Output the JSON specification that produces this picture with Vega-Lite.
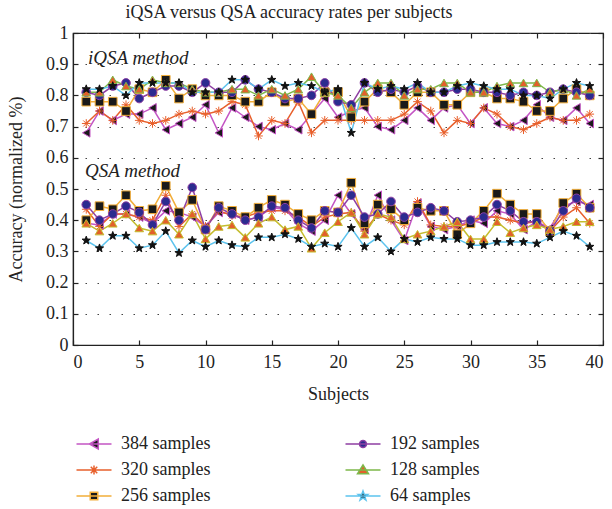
{
"$schema": "https://vega.github.io/schema/vega-lite/v6.json",
"width": 530, "height": 312,
"autosize": {"type": "none"},
"padding": {"left": 73, "top": 33, "right": 9, "bottom": 164},
"background": "white",
"config": {
  "font": "Liberation Serif, DejaVu Serif, serif",
  "view": {"stroke": "#222", "strokeWidth": 1.2},
  "axis": {"labelFont": "Liberation Serif, DejaVu Serif, serif", "titleFont": "Liberation Serif, DejaVu Serif, serif", "labelFontSize": 18, "titleFontSize": 18, "titleFontWeight": "normal", "labelColor": "#222", "titleColor": "#222", "domainColor": "#222", "tickColor": "#222", "domainWidth": 1.2, "tickWidth": 1.2},
  "legend": {"labelFont": "Liberation Serif, DejaVu Serif, serif", "labelFontSize": 18, "labelColor": "#222", "symbolSize": 100, "symbolStrokeWidth": 1.5, "symbolOpacity": 1}
},
"title": {"text": "iQSA versus QSA accuracy rates per subjects", "fontSize": 18, "fontWeight": "normal", "font": "Liberation Serif, DejaVu Serif, serif", "color": "#222", "dx": -49, "offset": 2},
"data": {"values": [
{"m":"iQSA","g":384,"s":1,"v":0.68},{"m":"iQSA","g":384,"s":2,"v":0.75},{"m":"iQSA","g":384,"s":3,"v":0.72},{"m":"iQSA","g":384,"s":4,"v":0.74},{"m":"iQSA","g":384,"s":5,"v":0.74},{"m":"iQSA","g":384,"s":6,"v":0.76},{"m":"iQSA","g":384,"s":7,"v":0.69},{"m":"iQSA","g":384,"s":8,"v":0.71},{"m":"iQSA","g":384,"s":9,"v":0.73},{"m":"iQSA","g":384,"s":10,"v":0.77},{"m":"iQSA","g":384,"s":11,"v":0.68},{"m":"iQSA","g":384,"s":12,"v":0.76},{"m":"iQSA","g":384,"s":13,"v":0.73},{"m":"iQSA","g":384,"s":14,"v":0.70},{"m":"iQSA","g":384,"s":15,"v":0.69},{"m":"iQSA","g":384,"s":16,"v":0.71},{"m":"iQSA","g":384,"s":17,"v":0.69},{"m":"iQSA","g":384,"s":18,"v":0.74},{"m":"iQSA","g":384,"s":19,"v":0.79},{"m":"iQSA","g":384,"s":20,"v":0.73},{"m":"iQSA","g":384,"s":21,"v":0.75},{"m":"iQSA","g":384,"s":22,"v":0.76},{"m":"iQSA","g":384,"s":23,"v":0.70},{"m":"iQSA","g":384,"s":24,"v":0.69},{"m":"iQSA","g":384,"s":25,"v":0.72},{"m":"iQSA","g":384,"s":26,"v":0.76},{"m":"iQSA","g":384,"s":27,"v":0.72},{"m":"iQSA","g":384,"s":28,"v":0.76},{"m":"iQSA","g":384,"s":29,"v":0.77},{"m":"iQSA","g":384,"s":30,"v":0.71},{"m":"iQSA","g":384,"s":31,"v":0.76},{"m":"iQSA","g":384,"s":32,"v":0.71},{"m":"iQSA","g":384,"s":33,"v":0.70},{"m":"iQSA","g":384,"s":34,"v":0.72},{"m":"iQSA","g":384,"s":35,"v":0.77},{"m":"iQSA","g":384,"s":36,"v":0.73},{"m":"iQSA","g":384,"s":37,"v":0.72},{"m":"iQSA","g":384,"s":38,"v":0.76},{"m":"iQSA","g":384,"s":39,"v":0.71},
{"m":"iQSA","g":320,"s":1,"v":0.71},{"m":"iQSA","g":320,"s":2,"v":0.75},{"m":"iQSA","g":320,"s":3,"v":0.72},{"m":"iQSA","g":320,"s":4,"v":0.77},{"m":"iQSA","g":320,"s":5,"v":0.72},{"m":"iQSA","g":320,"s":6,"v":0.71},{"m":"iQSA","g":320,"s":7,"v":0.72},{"m":"iQSA","g":320,"s":8,"v":0.74},{"m":"iQSA","g":320,"s":9,"v":0.75},{"m":"iQSA","g":320,"s":10,"v":0.74},{"m":"iQSA","g":320,"s":11,"v":0.75},{"m":"iQSA","g":320,"s":12,"v":0.78},{"m":"iQSA","g":320,"s":13,"v":0.77},{"m":"iQSA","g":320,"s":14,"v":0.67},{"m":"iQSA","g":320,"s":15,"v":0.72},{"m":"iQSA","g":320,"s":16,"v":0.71},{"m":"iQSA","g":320,"s":17,"v":0.78},{"m":"iQSA","g":320,"s":18,"v":0.68},{"m":"iQSA","g":320,"s":19,"v":0.72},{"m":"iQSA","g":320,"s":20,"v":0.72},{"m":"iQSA","g":320,"s":21,"v":0.72},{"m":"iQSA","g":320,"s":22,"v":0.72},{"m":"iQSA","g":320,"s":23,"v":0.72},{"m":"iQSA","g":320,"s":24,"v":0.72},{"m":"iQSA","g":320,"s":25,"v":0.74},{"m":"iQSA","g":320,"s":26,"v":0.78},{"m":"iQSA","g":320,"s":27,"v":0.75},{"m":"iQSA","g":320,"s":28,"v":0.68},{"m":"iQSA","g":320,"s":29,"v":0.72},{"m":"iQSA","g":320,"s":30,"v":0.71},{"m":"iQSA","g":320,"s":31,"v":0.76},{"m":"iQSA","g":320,"s":32,"v":0.74},{"m":"iQSA","g":320,"s":33,"v":0.70},{"m":"iQSA","g":320,"s":34,"v":0.69},{"m":"iQSA","g":320,"s":35,"v":0.71},{"m":"iQSA","g":320,"s":36,"v":0.73},{"m":"iQSA","g":320,"s":37,"v":0.72},{"m":"iQSA","g":320,"s":38,"v":0.72},{"m":"iQSA","g":320,"s":39,"v":0.74},
{"m":"iQSA","g":256,"s":1,"v":0.78},{"m":"iQSA","g":256,"s":2,"v":0.78},{"m":"iQSA","g":256,"s":3,"v":0.78},{"m":"iQSA","g":256,"s":4,"v":0.75},{"m":"iQSA","g":256,"s":5,"v":0.82},{"m":"iQSA","g":256,"s":6,"v":0.81},{"m":"iQSA","g":256,"s":7,"v":0.85},{"m":"iQSA","g":256,"s":8,"v":0.79},{"m":"iQSA","g":256,"s":9,"v":0.82},{"m":"iQSA","g":256,"s":10,"v":0.80},{"m":"iQSA","g":256,"s":11,"v":0.80},{"m":"iQSA","g":256,"s":12,"v":0.80},{"m":"iQSA","g":256,"s":13,"v":0.78},{"m":"iQSA","g":256,"s":14,"v":0.78},{"m":"iQSA","g":256,"s":15,"v":0.81},{"m":"iQSA","g":256,"s":16,"v":0.78},{"m":"iQSA","g":256,"s":17,"v":0.79},{"m":"iQSA","g":256,"s":18,"v":0.74},{"m":"iQSA","g":256,"s":19,"v":0.81},{"m":"iQSA","g":256,"s":20,"v":0.81},{"m":"iQSA","g":256,"s":21,"v":0.73},{"m":"iQSA","g":256,"s":22,"v":0.78},{"m":"iQSA","g":256,"s":23,"v":0.82},{"m":"iQSA","g":256,"s":24,"v":0.81},{"m":"iQSA","g":256,"s":25,"v":0.77},{"m":"iQSA","g":256,"s":26,"v":0.81},{"m":"iQSA","g":256,"s":27,"v":0.81},{"m":"iQSA","g":256,"s":28,"v":0.77},{"m":"iQSA","g":256,"s":29,"v":0.77},{"m":"iQSA","g":256,"s":30,"v":0.81},{"m":"iQSA","g":256,"s":31,"v":0.81},{"m":"iQSA","g":256,"s":32,"v":0.79},{"m":"iQSA","g":256,"s":33,"v":0.79},{"m":"iQSA","g":256,"s":34,"v":0.78},{"m":"iQSA","g":256,"s":35,"v":0.75},{"m":"iQSA","g":256,"s":36,"v":0.75},{"m":"iQSA","g":256,"s":37,"v":0.79},{"m":"iQSA","g":256,"s":38,"v":0.82},{"m":"iQSA","g":256,"s":39,"v":0.80},
{"m":"iQSA","g":192,"s":1,"v":0.81},{"m":"iQSA","g":192,"s":2,"v":0.80},{"m":"iQSA","g":192,"s":3,"v":0.83},{"m":"iQSA","g":192,"s":4,"v":0.84},{"m":"iQSA","g":192,"s":5,"v":0.79},{"m":"iQSA","g":192,"s":6,"v":0.81},{"m":"iQSA","g":192,"s":7,"v":0.83},{"m":"iQSA","g":192,"s":8,"v":0.83},{"m":"iQSA","g":192,"s":9,"v":0.81},{"m":"iQSA","g":192,"s":10,"v":0.84},{"m":"iQSA","g":192,"s":11,"v":0.81},{"m":"iQSA","g":192,"s":12,"v":0.81},{"m":"iQSA","g":192,"s":13,"v":0.85},{"m":"iQSA","g":192,"s":14,"v":0.82},{"m":"iQSA","g":192,"s":15,"v":0.81},{"m":"iQSA","g":192,"s":16,"v":0.79},{"m":"iQSA","g":192,"s":17,"v":0.79},{"m":"iQSA","g":192,"s":18,"v":0.80},{"m":"iQSA","g":192,"s":19,"v":0.84},{"m":"iQSA","g":192,"s":20,"v":0.78},{"m":"iQSA","g":192,"s":21,"v":0.77},{"m":"iQSA","g":192,"s":22,"v":0.84},{"m":"iQSA","g":192,"s":23,"v":0.81},{"m":"iQSA","g":192,"s":24,"v":0.82},{"m":"iQSA","g":192,"s":25,"v":0.81},{"m":"iQSA","g":192,"s":26,"v":0.83},{"m":"iQSA","g":192,"s":27,"v":0.81},{"m":"iQSA","g":192,"s":28,"v":0.81},{"m":"iQSA","g":192,"s":29,"v":0.82},{"m":"iQSA","g":192,"s":30,"v":0.82},{"m":"iQSA","g":192,"s":31,"v":0.81},{"m":"iQSA","g":192,"s":32,"v":0.81},{"m":"iQSA","g":192,"s":33,"v":0.80},{"m":"iQSA","g":192,"s":34,"v":0.81},{"m":"iQSA","g":192,"s":35,"v":0.80},{"m":"iQSA","g":192,"s":36,"v":0.81},{"m":"iQSA","g":192,"s":37,"v":0.82},{"m":"iQSA","g":192,"s":38,"v":0.81},{"m":"iQSA","g":192,"s":39,"v":0.80},
{"m":"iQSA","g":128,"s":1,"v":0.81},{"m":"iQSA","g":128,"s":2,"v":0.81},{"m":"iQSA","g":128,"s":3,"v":0.85},{"m":"iQSA","g":128,"s":4,"v":0.83},{"m":"iQSA","g":128,"s":5,"v":0.82},{"m":"iQSA","g":128,"s":6,"v":0.85},{"m":"iQSA","g":128,"s":7,"v":0.84},{"m":"iQSA","g":128,"s":8,"v":0.84},{"m":"iQSA","g":128,"s":9,"v":0.82},{"m":"iQSA","g":128,"s":10,"v":0.81},{"m":"iQSA","g":128,"s":11,"v":0.81},{"m":"iQSA","g":128,"s":12,"v":0.82},{"m":"iQSA","g":128,"s":13,"v":0.82},{"m":"iQSA","g":128,"s":14,"v":0.80},{"m":"iQSA","g":128,"s":15,"v":0.82},{"m":"iQSA","g":128,"s":16,"v":0.80},{"m":"iQSA","g":128,"s":17,"v":0.82},{"m":"iQSA","g":128,"s":18,"v":0.86},{"m":"iQSA","g":128,"s":19,"v":0.81},{"m":"iQSA","g":128,"s":20,"v":0.80},{"m":"iQSA","g":128,"s":21,"v":0.76},{"m":"iQSA","g":128,"s":22,"v":0.81},{"m":"iQSA","g":128,"s":23,"v":0.84},{"m":"iQSA","g":128,"s":24,"v":0.84},{"m":"iQSA","g":128,"s":25,"v":0.80},{"m":"iQSA","g":128,"s":26,"v":0.82},{"m":"iQSA","g":128,"s":27,"v":0.82},{"m":"iQSA","g":128,"s":28,"v":0.84},{"m":"iQSA","g":128,"s":29,"v":0.84},{"m":"iQSA","g":128,"s":30,"v":0.81},{"m":"iQSA","g":128,"s":31,"v":0.81},{"m":"iQSA","g":128,"s":32,"v":0.83},{"m":"iQSA","g":128,"s":33,"v":0.84},{"m":"iQSA","g":128,"s":34,"v":0.84},{"m":"iQSA","g":128,"s":35,"v":0.84},{"m":"iQSA","g":128,"s":36,"v":0.81},{"m":"iQSA","g":128,"s":37,"v":0.82},{"m":"iQSA","g":128,"s":38,"v":0.80},{"m":"iQSA","g":128,"s":39,"v":0.82},
{"m":"iQSA","g":64,"s":1,"v":0.82},{"m":"iQSA","g":64,"s":2,"v":0.82},{"m":"iQSA","g":64,"s":3,"v":0.83},{"m":"iQSA","g":64,"s":4,"v":0.80},{"m":"iQSA","g":64,"s":5,"v":0.84},{"m":"iQSA","g":64,"s":6,"v":0.84},{"m":"iQSA","g":64,"s":7,"v":0.84},{"m":"iQSA","g":64,"s":8,"v":0.84},{"m":"iQSA","g":64,"s":9,"v":0.81},{"m":"iQSA","g":64,"s":10,"v":0.81},{"m":"iQSA","g":64,"s":11,"v":0.81},{"m":"iQSA","g":64,"s":12,"v":0.85},{"m":"iQSA","g":64,"s":13,"v":0.85},{"m":"iQSA","g":64,"s":14,"v":0.82},{"m":"iQSA","g":64,"s":15,"v":0.85},{"m":"iQSA","g":64,"s":16,"v":0.83},{"m":"iQSA","g":64,"s":17,"v":0.84},{"m":"iQSA","g":64,"s":18,"v":0.83},{"m":"iQSA","g":64,"s":19,"v":0.81},{"m":"iQSA","g":64,"s":20,"v":0.82},{"m":"iQSA","g":64,"s":21,"v":0.68},{"m":"iQSA","g":64,"s":22,"v":0.84},{"m":"iQSA","g":64,"s":23,"v":0.82},{"m":"iQSA","g":64,"s":24,"v":0.83},{"m":"iQSA","g":64,"s":25,"v":0.82},{"m":"iQSA","g":64,"s":26,"v":0.84},{"m":"iQSA","g":64,"s":27,"v":0.81},{"m":"iQSA","g":64,"s":28,"v":0.81},{"m":"iQSA","g":64,"s":29,"v":0.83},{"m":"iQSA","g":64,"s":30,"v":0.84},{"m":"iQSA","g":64,"s":31,"v":0.83},{"m":"iQSA","g":64,"s":32,"v":0.82},{"m":"iQSA","g":64,"s":33,"v":0.82},{"m":"iQSA","g":64,"s":34,"v":0.80},{"m":"iQSA","g":64,"s":35,"v":0.80},{"m":"iQSA","g":64,"s":36,"v":0.79},{"m":"iQSA","g":64,"s":37,"v":0.82},{"m":"iQSA","g":64,"s":38,"v":0.84},{"m":"iQSA","g":64,"s":39,"v":0.83},
{"m":"QSA","g":384,"s":1,"v":0.39},{"m":"QSA","g":384,"s":2,"v":0.385},{"m":"QSA","g":384,"s":3,"v":0.42},{"m":"QSA","g":384,"s":4,"v":0.42},{"m":"QSA","g":384,"s":5,"v":0.41},{"m":"QSA","g":384,"s":6,"v":0.39},{"m":"QSA","g":384,"s":7,"v":0.43},{"m":"QSA","g":384,"s":8,"v":0.425},{"m":"QSA","g":384,"s":9,"v":0.41},{"m":"QSA","g":384,"s":10,"v":0.38},{"m":"QSA","g":384,"s":11,"v":0.425},{"m":"QSA","g":384,"s":12,"v":0.42},{"m":"QSA","g":384,"s":13,"v":0.40},{"m":"QSA","g":384,"s":14,"v":0.41},{"m":"QSA","g":384,"s":15,"v":0.44},{"m":"QSA","g":384,"s":16,"v":0.435},{"m":"QSA","g":384,"s":17,"v":0.39},{"m":"QSA","g":384,"s":18,"v":0.365},{"m":"QSA","g":384,"s":19,"v":0.40},{"m":"QSA","g":384,"s":20,"v":0.48},{"m":"QSA","g":384,"s":21,"v":0.42},{"m":"QSA","g":384,"s":22,"v":0.37},{"m":"QSA","g":384,"s":23,"v":0.48},{"m":"QSA","g":384,"s":24,"v":0.40},{"m":"QSA","g":384,"s":25,"v":0.335},{"m":"QSA","g":384,"s":26,"v":0.455},{"m":"QSA","g":384,"s":27,"v":0.38},{"m":"QSA","g":384,"s":28,"v":0.37},{"m":"QSA","g":384,"s":29,"v":0.38},{"m":"QSA","g":384,"s":30,"v":0.40},{"m":"QSA","g":384,"s":31,"v":0.39},{"m":"QSA","g":384,"s":32,"v":0.43},{"m":"QSA","g":384,"s":33,"v":0.42},{"m":"QSA","g":384,"s":34,"v":0.37},{"m":"QSA","g":384,"s":35,"v":0.395},{"m":"QSA","g":384,"s":36,"v":0.375},{"m":"QSA","g":384,"s":37,"v":0.445},{"m":"QSA","g":384,"s":38,"v":0.46},{"m":"QSA","g":384,"s":39,"v":0.45},
{"m":"QSA","g":320,"s":1,"v":0.435},{"m":"QSA","g":320,"s":2,"v":0.38},{"m":"QSA","g":320,"s":3,"v":0.42},{"m":"QSA","g":320,"s":4,"v":0.42},{"m":"QSA","g":320,"s":5,"v":0.41},{"m":"QSA","g":320,"s":6,"v":0.40},{"m":"QSA","g":320,"s":7,"v":0.48},{"m":"QSA","g":320,"s":8,"v":0.38},{"m":"QSA","g":320,"s":9,"v":0.42},{"m":"QSA","g":320,"s":10,"v":0.38},{"m":"QSA","g":320,"s":11,"v":0.43},{"m":"QSA","g":320,"s":12,"v":0.415},{"m":"QSA","g":320,"s":13,"v":0.41},{"m":"QSA","g":320,"s":14,"v":0.425},{"m":"QSA","g":320,"s":15,"v":0.43},{"m":"QSA","g":320,"s":16,"v":0.43},{"m":"QSA","g":320,"s":17,"v":0.41},{"m":"QSA","g":320,"s":18,"v":0.38},{"m":"QSA","g":320,"s":19,"v":0.41},{"m":"QSA","g":320,"s":20,"v":0.42},{"m":"QSA","g":320,"s":21,"v":0.425},{"m":"QSA","g":320,"s":22,"v":0.365},{"m":"QSA","g":320,"s":23,"v":0.42},{"m":"QSA","g":320,"s":24,"v":0.40},{"m":"QSA","g":320,"s":25,"v":0.385},{"m":"QSA","g":320,"s":26,"v":0.46},{"m":"QSA","g":320,"s":27,"v":0.385},{"m":"QSA","g":320,"s":28,"v":0.38},{"m":"QSA","g":320,"s":29,"v":0.38},{"m":"QSA","g":320,"s":30,"v":0.39},{"m":"QSA","g":320,"s":31,"v":0.41},{"m":"QSA","g":320,"s":32,"v":0.41},{"m":"QSA","g":320,"s":33,"v":0.40},{"m":"QSA","g":320,"s":34,"v":0.39},{"m":"QSA","g":320,"s":35,"v":0.395},{"m":"QSA","g":320,"s":36,"v":0.365},{"m":"QSA","g":320,"s":37,"v":0.41},{"m":"QSA","g":320,"s":38,"v":0.44},{"m":"QSA","g":320,"s":39,"v":0.39},
{"m":"QSA","g":256,"s":1,"v":0.40},{"m":"QSA","g":256,"s":2,"v":0.445},{"m":"QSA","g":256,"s":3,"v":0.435},{"m":"QSA","g":256,"s":4,"v":0.48},{"m":"QSA","g":256,"s":5,"v":0.43},{"m":"QSA","g":256,"s":6,"v":0.435},{"m":"QSA","g":256,"s":7,"v":0.51},{"m":"QSA","g":256,"s":8,"v":0.425},{"m":"QSA","g":256,"s":9,"v":0.465},{"m":"QSA","g":256,"s":10,"v":0.37},{"m":"QSA","g":256,"s":11,"v":0.445},{"m":"QSA","g":256,"s":12,"v":0.43},{"m":"QSA","g":256,"s":13,"v":0.41},{"m":"QSA","g":256,"s":14,"v":0.44},{"m":"QSA","g":256,"s":15,"v":0.465},{"m":"QSA","g":256,"s":16,"v":0.45},{"m":"QSA","g":256,"s":17,"v":0.42},{"m":"QSA","g":256,"s":18,"v":0.40},{"m":"QSA","g":256,"s":19,"v":0.43},{"m":"QSA","g":256,"s":20,"v":0.425},{"m":"QSA","g":256,"s":21,"v":0.52},{"m":"QSA","g":256,"s":22,"v":0.39},{"m":"QSA","g":256,"s":23,"v":0.45},{"m":"QSA","g":256,"s":24,"v":0.435},{"m":"QSA","g":256,"s":25,"v":0.40},{"m":"QSA","g":256,"s":26,"v":0.44},{"m":"QSA","g":256,"s":27,"v":0.43},{"m":"QSA","g":256,"s":28,"v":0.43},{"m":"QSA","g":256,"s":29,"v":0.355},{"m":"QSA","g":256,"s":30,"v":0.39},{"m":"QSA","g":256,"s":31,"v":0.43},{"m":"QSA","g":256,"s":32,"v":0.485},{"m":"QSA","g":256,"s":33,"v":0.45},{"m":"QSA","g":256,"s":34,"v":0.42},{"m":"QSA","g":256,"s":35,"v":0.42},{"m":"QSA","g":256,"s":36,"v":0.365},{"m":"QSA","g":256,"s":37,"v":0.455},{"m":"QSA","g":256,"s":38,"v":0.485},{"m":"QSA","g":256,"s":39,"v":0.44},
{"m":"QSA","g":192,"s":1,"v":0.45},{"m":"QSA","g":192,"s":2,"v":0.40},{"m":"QSA","g":192,"s":3,"v":0.42},{"m":"QSA","g":192,"s":4,"v":0.445},{"m":"QSA","g":192,"s":5,"v":0.425},{"m":"QSA","g":192,"s":6,"v":0.385},{"m":"QSA","g":192,"s":7,"v":0.46},{"m":"QSA","g":192,"s":8,"v":0.40},{"m":"QSA","g":192,"s":9,"v":0.505},{"m":"QSA","g":192,"s":10,"v":0.37},{"m":"QSA","g":192,"s":11,"v":0.44},{"m":"QSA","g":192,"s":12,"v":0.42},{"m":"QSA","g":192,"s":13,"v":0.40},{"m":"QSA","g":192,"s":14,"v":0.41},{"m":"QSA","g":192,"s":15,"v":0.445},{"m":"QSA","g":192,"s":16,"v":0.44},{"m":"QSA","g":192,"s":17,"v":0.40},{"m":"QSA","g":192,"s":18,"v":0.375},{"m":"QSA","g":192,"s":19,"v":0.43},{"m":"QSA","g":192,"s":20,"v":0.425},{"m":"QSA","g":192,"s":21,"v":0.48},{"m":"QSA","g":192,"s":22,"v":0.41},{"m":"QSA","g":192,"s":23,"v":0.42},{"m":"QSA","g":192,"s":24,"v":0.46},{"m":"QSA","g":192,"s":25,"v":0.41},{"m":"QSA","g":192,"s":26,"v":0.425},{"m":"QSA","g":192,"s":27,"v":0.44},{"m":"QSA","g":192,"s":28,"v":0.43},{"m":"QSA","g":192,"s":29,"v":0.395},{"m":"QSA","g":192,"s":30,"v":0.40},{"m":"QSA","g":192,"s":31,"v":0.41},{"m":"QSA","g":192,"s":32,"v":0.45},{"m":"QSA","g":192,"s":33,"v":0.43},{"m":"QSA","g":192,"s":34,"v":0.395},{"m":"QSA","g":192,"s":35,"v":0.395},{"m":"QSA","g":192,"s":36,"v":0.365},{"m":"QSA","g":192,"s":37,"v":0.43},{"m":"QSA","g":192,"s":38,"v":0.47},{"m":"QSA","g":192,"s":39,"v":0.44},
{"m":"QSA","g":128,"s":1,"v":0.39},{"m":"QSA","g":128,"s":2,"v":0.365},{"m":"QSA","g":128,"s":3,"v":0.39},{"m":"QSA","g":128,"s":4,"v":0.42},{"m":"QSA","g":128,"s":5,"v":0.375},{"m":"QSA","g":128,"s":6,"v":0.365},{"m":"QSA","g":128,"s":7,"v":0.40},{"m":"QSA","g":128,"s":8,"v":0.355},{"m":"QSA","g":128,"s":9,"v":0.42},{"m":"QSA","g":128,"s":10,"v":0.34},{"m":"QSA","g":128,"s":11,"v":0.38},{"m":"QSA","g":128,"s":12,"v":0.385},{"m":"QSA","g":128,"s":13,"v":0.345},{"m":"QSA","g":128,"s":14,"v":0.39},{"m":"QSA","g":128,"s":15,"v":0.41},{"m":"QSA","g":128,"s":16,"v":0.37},{"m":"QSA","g":128,"s":17,"v":0.38},{"m":"QSA","g":128,"s":18,"v":0.31},{"m":"QSA","g":128,"s":19,"v":0.36},{"m":"QSA","g":128,"s":20,"v":0.395},{"m":"QSA","g":128,"s":21,"v":0.425},{"m":"QSA","g":128,"s":22,"v":0.355},{"m":"QSA","g":128,"s":23,"v":0.42},{"m":"QSA","g":128,"s":24,"v":0.41},{"m":"QSA","g":128,"s":25,"v":0.34},{"m":"QSA","g":128,"s":26,"v":0.355},{"m":"QSA","g":128,"s":27,"v":0.365},{"m":"QSA","g":128,"s":28,"v":0.38},{"m":"QSA","g":128,"s":29,"v":0.395},{"m":"QSA","g":128,"s":30,"v":0.34},{"m":"QSA","g":128,"s":31,"v":0.34},{"m":"QSA","g":128,"s":32,"v":0.395},{"m":"QSA","g":128,"s":33,"v":0.36},{"m":"QSA","g":128,"s":34,"v":0.375},{"m":"QSA","g":128,"s":35,"v":0.385},{"m":"QSA","g":128,"s":36,"v":0.37},{"m":"QSA","g":128,"s":37,"v":0.38},{"m":"QSA","g":128,"s":38,"v":0.395},{"m":"QSA","g":128,"s":39,"v":0.395},
{"m":"QSA","g":64,"s":1,"v":0.335},{"m":"QSA","g":64,"s":2,"v":0.31},{"m":"QSA","g":64,"s":3,"v":0.35},{"m":"QSA","g":64,"s":4,"v":0.35},{"m":"QSA","g":64,"s":5,"v":0.31},{"m":"QSA","g":64,"s":6,"v":0.32},{"m":"QSA","g":64,"s":7,"v":0.365},{"m":"QSA","g":64,"s":8,"v":0.295},{"m":"QSA","g":64,"s":9,"v":0.335},{"m":"QSA","g":64,"s":10,"v":0.315},{"m":"QSA","g":64,"s":11,"v":0.335},{"m":"QSA","g":64,"s":12,"v":0.32},{"m":"QSA","g":64,"s":13,"v":0.315},{"m":"QSA","g":64,"s":14,"v":0.345},{"m":"QSA","g":64,"s":15,"v":0.345},{"m":"QSA","g":64,"s":16,"v":0.355},{"m":"QSA","g":64,"s":17,"v":0.34},{"m":"QSA","g":64,"s":18,"v":0.315},{"m":"QSA","g":64,"s":19,"v":0.325},{"m":"QSA","g":64,"s":20,"v":0.315},{"m":"QSA","g":64,"s":21,"v":0.375},{"m":"QSA","g":64,"s":22,"v":0.315},{"m":"QSA","g":64,"s":23,"v":0.345},{"m":"QSA","g":64,"s":24,"v":0.30},{"m":"QSA","g":64,"s":25,"v":0.34},{"m":"QSA","g":64,"s":26,"v":0.33},{"m":"QSA","g":64,"s":27,"v":0.345},{"m":"QSA","g":64,"s":28,"v":0.34},{"m":"QSA","g":64,"s":29,"v":0.34},{"m":"QSA","g":64,"s":30,"v":0.32},{"m":"QSA","g":64,"s":31,"v":0.32},{"m":"QSA","g":64,"s":32,"v":0.33},{"m":"QSA","g":64,"s":33,"v":0.33},{"m":"QSA","g":64,"s":34,"v":0.33},{"m":"QSA","g":64,"s":35,"v":0.325},{"m":"QSA","g":64,"s":36,"v":0.345},{"m":"QSA","g":64,"s":37,"v":0.365},{"m":"QSA","g":64,"s":38,"v":0.35},{"m":"QSA","g":64,"s":39,"v":0.315}
]},
"layer": [
  {
    "mark": {"type": "line", "strokeWidth": 1.5},
    "encoding": {
      "x": {"field": "s", "type": "quantitative", "scale": {"domain": [0, 40], "nice": false, "zero": false},
            "axis": {"values": [0,5,10,15,20,25,30,35,40], "grid": false, "tickSize": -5, "labelPadding": 13, "title": "Subjects", "titlePadding": 14}},
      "y": {"field": "v", "type": "quantitative", "scale": {"domain": [0, 1], "nice": false},
            "axis": {"values": [0,0.1,0.2,0.3,0.4,0.5,0.6,0.7,0.8,0.9,1], "format": "~g", "grid": true, "gridDash": [1.5, 10.5], "gridColor": "#444", "gridWidth": 1.2, "tickSize": -5, "labelPadding": 10, "title": "Accuracy (normalized %)", "titlePadding": 20}},
      "detail": {"field": "m"},
      "color": {"condition": {"test": "datum.m == 'QSA' && datum.g == 128", "value": "#c4bd2e"},
                "field": "g", "type": "nominal",
                "scale": {"domain": [384,320,256,192,128,64], "range": ["#c455c4","#e8602c","#f2ae3a","#8e3fa3","#7db84a","#5cc3ee"]},
                "legend": null}
    }
  },
  {
    "mark": {"type": "point", "filled": true, "size": 75, "strokeWidth": 1, "opacity": 1},
    "encoding": {
      "x": {"field": "s", "type": "quantitative", "axis": null},
      "y": {"field": "v", "type": "quantitative", "axis": null},
      "shape": {"field": "g", "type": "nominal", "legend": null,
                "scale": {"domain": [384,320,256,192,128,64], "range": ["triangle-left", "M-1,0H1M0,-1V1M-0.7,-0.7L0.7,0.7M-0.7,0.7L0.7,-0.7", "square", "circle", "triangle-up", "M0,-1L0.24,-0.33L0.95,-0.31L0.38,0.12L0.59,0.81L0,0.4L-0.59,0.81L-0.38,0.12L-0.95,-0.31L-0.24,-0.33Z"]}},
      "fill": {"field": "g", "type": "nominal", "legend": null,
               "scale": {"domain": [384,320,256,192,128,64], "range": ["#1a1a1a","#e8602c","#1a1a1a","#2b2b8f","#e2602b","#111111"]}},
      "stroke": {"condition": {"test": "datum.m == 'QSA' && datum.g == 128", "value": "#c4bd2e"},
                 "field": "g", "type": "nominal", "legend": null,
                 "scale": {"domain": [384,320,256,192,128,64], "range": ["#c455c4","#e8602c","#f2ae3a","#8e3fa3","#7db84a","#111111"]}}
    }
  },
  {
    "transform": [{"filter": "datum.s < 0"}],
    "mark": {"type": "point", "filled": true, "opacity": 1},
    "encoding": {
      "x": {"field": "s", "type": "quantitative", "axis": {"orient": "top", "values": [0,5,10,15,20,25,30,35,40], "labels": false, "title": null, "grid": false, "domain": false, "tickSize": -5}},
      "y": {"field": "v", "type": "quantitative", "axis": {"orient": "right", "values": [0,0.1,0.2,0.3,0.4,0.5,0.6,0.7,0.8,0.9,1], "labels": false, "title": null, "grid": false, "domain": false, "tickSize": -5}},
      "shape": {"field": "g", "type": "nominal",
                "scale": {"domain": [384,320,256,192,128,64], "range": ["M-3.5,0H3.5M-0.9,0L0.85,-1L0.85,1Z", "M-3.5,0H3.5M-0.9,0H0.9M0,-0.9V0.9M-0.65,-0.65L0.65,0.65M-0.65,0.65L0.65,-0.65", "M-3.5,0H3.5M-0.75,-0.75H0.75V0.75H-0.75Z", "M-3.5,0H3.5M-0.7,0A0.7,0.7,0,1,0,0.7,0A0.7,0.7,0,1,0,-0.7,0Z", "M-3.5,0H3.5M0,-1L1.1,0.75L-1.1,0.75Z", "M-3.5,0H3.5M0,-1L0.24,-0.33L0.95,-0.31L0.38,0.12L0.59,0.81L0,0.4L-0.59,0.81L-0.38,0.12L-0.95,-0.31L-0.24,-0.33Z"]},
                "legend": {"title": null, "orient": "none", "legendX": 0, "legendY": 402, "columns": 2, "columnPadding": 131, "rowPadding": 8, "symbolOffset": 12, "labelOffset": 18, "labelExpr": "datum.label + ' samples'", "padding": 0}},
      "fill": {"field": "g", "type": "nominal",
               "scale": {"domain": [384,320,256,192,128,64], "range": ["#1a1a1a","#e8602c","#1a1a1a","#2b2b8f","#e2602b","#111111"]},
               "legend": {"title": null, "orient": "none", "legendX": 0, "legendY": 402, "columns": 2, "columnPadding": 131, "rowPadding": 8, "symbolOffset": 12, "labelOffset": 18, "labelExpr": "datum.label + ' samples'", "padding": 0}},
      "stroke": {"field": "g", "type": "nominal",
                 "scale": {"domain": [384,320,256,192,128,64], "range": ["#c455c4","#e8602c","#f2ae3a","#8e3fa3","#7db84a","#5cc3ee"]},
                 "legend": {"title": null, "orient": "none", "legendX": 0, "legendY": 402, "columns": 2, "columnPadding": 131, "rowPadding": 8, "symbolOffset": 12, "labelOffset": 18, "labelExpr": "datum.label + ' samples'", "padding": 0}}
    }
  },
  {
    "data": {"values": [{}]},
    "mark": {"type": "text", "text": "iQSA method", "font": "Liberation Serif, DejaVu Serif, serif", "fontStyle": "italic", "fontSize": 19, "align": "left", "baseline": "alphabetic", "color": "#222"},
    "encoding": {
      "x": {"datum": 1.13, "type": "quantitative", "axis": null},
      "y": {"datum": 0.9, "type": "quantitative", "axis": null}
    }
  },
  {
    "data": {"values": [{}]},
    "mark": {"type": "text", "text": "QSA method", "font": "Liberation Serif, DejaVu Serif, serif", "fontStyle": "italic", "fontSize": 19, "align": "left", "baseline": "alphabetic", "color": "#222"},
    "encoding": {
      "x": {"datum": 0.9, "type": "quantitative", "axis": null},
      "y": {"datum": 0.54, "type": "quantitative", "axis": null}
    }
  }
],
"resolve": {"scale": {"shape": "independent", "fill": "independent", "stroke": "independent"}, "axis": {"x": "independent", "y": "independent"}}
}
